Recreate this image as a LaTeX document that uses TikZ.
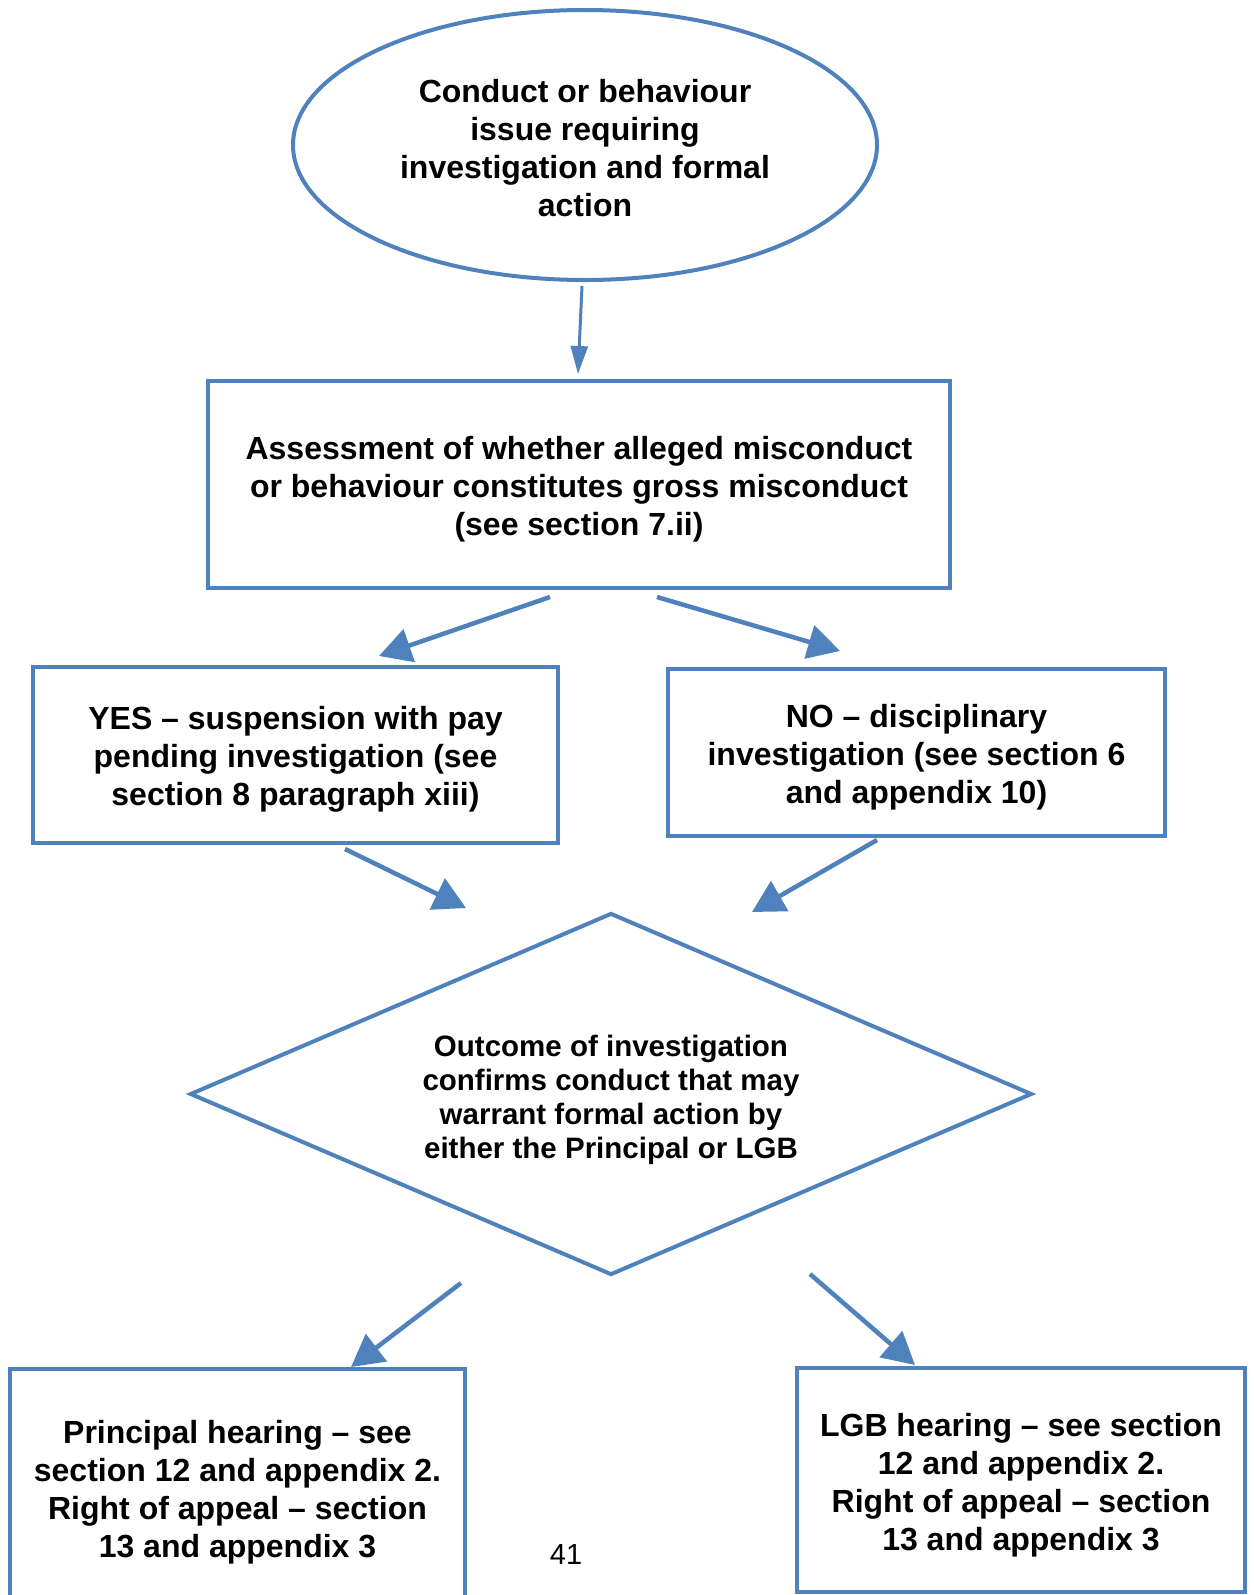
\documentclass[tikz,border=0pt]{standalone}
\usepackage{fontspec}
\setmainfont{Liberation Sans}
\usetikzlibrary{shapes.geometric,arrows.meta}
\definecolor{flowblue}{RGB}{79,129,189}
\begin{document}
\begin{tikzpicture}[x=1pt,y=-1pt,
  txt/.style={font=\bfseries\fontsize{32}{38}\selectfont, align=center, text=black, inner sep=0pt},
  smalltxt/.style={font=\bfseries\fontsize{29.5}{34}\selectfont, align=center, text=black, inner sep=0pt},
  flowbox/.style={draw=flowblue, line width=4pt, rectangle, inner sep=0pt},
  flowarrow/.style={draw=flowblue, line width=4.5pt, -{Triangle[length=32pt,width=34pt]}},
  thinarrow/.style={draw=flowblue, line width=3pt, -{Triangle[length=28pt,width=17pt]}}]
\useasboundingbox (0,0) rectangle (1253,1595);
\clip (0,0) rectangle (1253,1595);

% shapes
\node[ellipse, draw=flowblue, line width=4pt, minimum width=584pt, minimum height=270pt, inner sep=0pt] (start) at (585,145) {};
\node[flowbox, minimum width=742pt, minimum height=207pt] (assess) at (579,484.5) {};
\node[flowbox, minimum width=525pt, minimum height=176pt] (yes) at (295.5,755) {};
\node[flowbox, minimum width=497pt, minimum height=167pt] (no) at (916.5,752.5) {};
\node[diamond, draw=flowblue, line width=4pt, aspect=2.33, minimum width=842pt, minimum height=362pt, inner sep=0pt] (outcome) at (611,1094) {};
\node[flowbox, minimum width=455pt, minimum height=238pt] (principal) at (237.5,1488) {};
\node[flowbox, minimum width=448pt, minimum height=224pt] (lgb) at (1021,1480) {};

% texts
\node[txt] (start-t) at ([yshift=-3pt]start.center)
  {Conduct or behaviour\\issue requiring\\investigation and formal\\action};
\node[txt] (assess-t) at ([yshift=-5pt]assess.center)
  {Assessment of whether alleged misconduct\\or behaviour constitutes gross misconduct\\(see section 7.ii)};
\node[txt] (yes-t) at ([yshift=-4.5pt]yes.center)
  {YES -- suspension with pay\\pending investigation (see\\section 8 paragraph xiii)};
\node[txt] (no-t) at ([yshift=-5pt]no.center)
  {NO -- disciplinary\\investigation (see section 6\\and appendix 10)};
\node[smalltxt] (outcome-t) at ([yshift=-6pt]outcome.center)
  {Outcome of investigation\\confirms conduct that may\\warrant formal action by\\either the Principal or LGB};
\node[txt] (principal-t) at ([yshift=-4.5pt]principal.center)
  {Principal hearing -- see\\section 12 and appendix 2.\\Right of appeal -- section\\13 and appendix 3};
\node[txt] (lgb-t) at ([yshift=-5pt]lgb.center)
  {LGB hearing -- see section\\12 and appendix 2.\\Right of appeal -- section\\13 and appendix 3};

\node[font=\fontsize{29}{34}\selectfont] (page) at (566,1555) {41};

% connector end points
\coordinate (a1s) at (582,286);
\coordinate (a1e) at (578,374);
\coordinate (a2s) at (550,597);
\coordinate (a2e) at (379,656);
\coordinate (a3s) at (657,597);
\coordinate (a3e) at (840,651);
\coordinate (a4s) at (345,849);
\coordinate (a4e) at (466,908);
\coordinate (a5s) at (877,840);
\coordinate (a5e) at (752,912);
\coordinate (a6s) at (461,1283);
\coordinate (a6e) at (351,1367);
\coordinate (a7s) at (810,1274);
\coordinate (a7e) at (915,1365);

\draw[thinarrow] (a1s) -- (a1e);
\draw[flowarrow] (a2s) -- (a2e);
\draw[flowarrow] (a3s) -- (a3e);
\draw[flowarrow] (a4s) -- (a4e);
\draw[flowarrow] (a5s) -- (a5e);
\draw[flowarrow] (a6s) -- (a6e);
\draw[flowarrow] (a7s) -- (a7e);
\end{tikzpicture}
\end{document}
